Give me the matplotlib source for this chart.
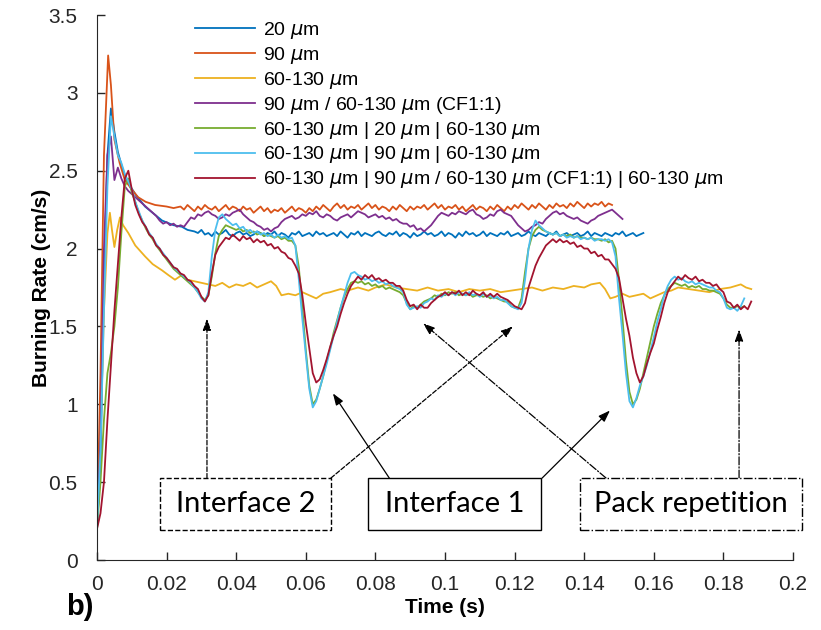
import matplotlib
matplotlib.use("Agg")
import matplotlib.pyplot as plt
from matplotlib.patches import Rectangle
from matplotlib.ticker import FuncFormatter, MultipleLocator

plt.rcParams['font.family'] = ['Liberation Sans', 'DejaVu Sans']
plt.rcParams['mathtext.fontset'] = 'dejavusans'

# ---- data (time in ms, burning rate in cm/s) ----
# 20 um
t_20 = [0, 1, 2, 3, 4, 5, 6, 7.5, 9, 11, 13.8, 16.5, 18.7, 22, 24.4, 26] + list(range(28, 158))
r_20 = [0.22, 0.6, 1.8, 2.6, 2.90, 2.75, 2.62, 2.50, 2.42, 2.35, 2.27, 2.22, 2.18, 2.15, 2.14, 2.12,
        2.11, 2.10, 2.12, 2.09, 2.10, 2.08, 2.11, 2.09, 2.10, 2.12,
        2.09, 2.08, 2.10, 2.11, 2.09, 2.10, 2.08, 2.09, 2.11, 2.10,
        2.08, 2.10, 2.09, 2.11, 2.08, 2.10, 2.09, 2.07, 2.10, 2.09,
        2.11, 2.08, 2.09, 2.10, 2.08, 2.11, 2.09, 2.10, 2.08, 2.09,
        2.10, 2.08, 2.11, 2.09, 2.07, 2.10, 2.09, 2.11, 2.08, 2.10,
        2.09, 2.08, 2.10, 2.11, 2.09, 2.08, 2.10, 2.09, 2.11, 2.08,
        2.10, 2.09, 2.07, 2.10, 2.08, 2.09, 2.11, 2.09, 2.10, 2.08,
        2.09, 2.11, 2.08, 2.10, 2.09, 2.07, 2.10, 2.08, 2.11, 2.09,
        2.10, 2.08, 2.09, 2.11, 2.08, 2.10, 2.09, 2.08, 2.10, 2.09,
        2.11, 2.08, 2.09, 2.10, 2.08, 2.09, 2.11, 2.09, 2.08, 2.10,
        2.09, 2.08, 2.10, 2.09, 2.11, 2.08, 2.09, 2.10, 2.08, 2.09,
        2.10, 2.08, 2.09, 2.11, 2.08, 2.10, 2.09, 2.08, 2.10, 2.09,
        2.08, 2.10, 2.09, 2.11, 2.08, 2.09, 2.10, 2.08, 2.09, 2.10]

# 90 um
t_90 = [0, 1, 2, 3.2, 4, 5, 6.5, 8, 10, 11.8, 14, 16.7, 20, 22] + list(range(24, 149))
r_90 = [0.2, 1.2, 2.6, 3.24, 3.05, 2.70, 2.55, 2.44, 2.38, 2.33, 2.30, 2.28, 2.27, 2.26,
        2.27, 2.25, 2.28, 2.26, 2.24, 2.27, 2.25, 2.28, 2.26, 2.25,
        2.27, 2.24, 2.26, 2.28, 2.25, 2.27, 2.26, 2.24, 2.27, 2.25,
        2.26, 2.23, 2.25, 2.27, 2.24, 2.26, 2.23, 2.25, 2.24, 2.26,
        2.23, 2.25, 2.27, 2.24, 2.26, 2.25, 2.23, 2.26, 2.24, 2.27,
        2.25, 2.28, 2.26, 2.24, 2.27, 2.29, 2.26, 2.28, 2.25, 2.27,
        2.26, 2.28, 2.25, 2.27, 2.29, 2.26, 2.28, 2.25, 2.27, 2.26,
        2.24, 2.27, 2.25, 2.28, 2.26, 2.24, 2.27, 2.25, 2.27, 2.26,
        2.28, 2.25, 2.27, 2.29, 2.26, 2.28, 2.25, 2.27, 2.26, 2.28,
        2.25, 2.27, 2.24, 2.26, 2.28, 2.25, 2.27, 2.26, 2.24, 2.27,
        2.25, 2.28, 2.26, 2.24, 2.27, 2.25, 2.28, 2.26, 2.29, 2.27,
        2.25, 2.28, 2.26, 2.29, 2.27, 2.25, 2.28, 2.26, 2.29, 2.27,
        2.28, 2.26, 2.29, 2.27, 2.30, 2.28, 2.26, 2.29, 2.27, 2.29,
        2.28, 2.30, 2.27, 2.29, 2.28]

# 60-130 um
t_60 = [0, 1, 2, 3, 3.7, 4.3, 5, 5.8, 6.6, 7.5, 9, 11, 13.8, 16, 18.7, 20.5, 22.4, 24.4, 26, 28,
        30, 32, 34, 36, 38, 40, 42, 44, 46, 48, 50, 51.5, 53, 55, 57, 59, 61, 63, 65, 67,
        70, 72, 75, 78, 80, 83, 86, 89, 92, 95, 98, 101, 104, 107, 110, 113, 116, 119, 122, 125,
        128, 131, 134, 137, 140, 142, 144.5, 146, 147.5, 149, 151, 153, 155, 157, 159, 161, 163, 165, 167, 170,
        173, 176, 179, 182, 185, 186.5, 188]
r_60 = [0.2, 0.8, 1.6, 2.1, 2.23, 2.12, 2.01, 2.12, 2.20, 2.15, 2.10, 2.02, 1.95, 1.90, 1.86, 1.83, 1.80, 1.83, 1.80, 1.79,
        1.78, 1.77, 1.76, 1.78, 1.75, 1.77, 1.76, 1.78, 1.75, 1.77, 1.79, 1.76, 1.70, 1.71, 1.70, 1.72, 1.70, 1.68, 1.71, 1.72,
        1.74, 1.73, 1.75, 1.73, 1.75, 1.77, 1.75, 1.74, 1.73, 1.75, 1.73, 1.74, 1.72, 1.74, 1.73, 1.74, 1.72, 1.73, 1.74, 1.75,
        1.73, 1.75, 1.74, 1.76, 1.75, 1.77, 1.78, 1.74, 1.68, 1.69, 1.71, 1.69, 1.70, 1.71, 1.68, 1.70, 1.72, 1.73, 1.75, 1.74,
        1.73, 1.72, 1.74, 1.75, 1.77, 1.75, 1.74]

# 90 um / 60-130 um (CF1:1), 1 ms samples
t_cf = list(range(0, 152))
r_cf = [0.20, 0.80, 2.00, 2.60, 2.72, 2.44, 2.52, 2.45, 2.40, 2.37,
        2.35, 2.33, 2.31, 2.29, 2.27, 2.25, 2.23, 2.21, 2.18, 2.16,
        2.17, 2.15, 2.16, 2.14, 2.15, 2.14, 2.17, 2.20, 2.19, 2.22,
        2.21, 2.23, 2.24, 2.22, 2.21, 2.19, 2.20, 2.22, 2.21, 2.23,
        2.24, 2.25, 2.22, 2.20, 2.18, 2.17, 2.15, 2.14, 2.12, 2.13,
        2.11, 2.13, 2.14, 2.17, 2.19, 2.20, 2.21, 2.19, 2.20, 2.22,
        2.21, 2.23, 2.22, 2.24, 2.21, 2.20, 2.22, 2.21, 2.19, 2.18,
        2.20, 2.21, 2.22, 2.20, 2.22, 2.24, 2.23, 2.22, 2.20, 2.21,
        2.22, 2.20, 2.21, 2.19, 2.20, 2.18, 2.19, 2.17, 2.16, 2.16,
        2.14, 2.15, 2.12, 2.13, 2.11, 2.13, 2.15, 2.18, 2.21, 2.23,
        2.22, 2.21, 2.23, 2.22, 2.24, 2.23, 2.22, 2.24, 2.25, 2.22,
        2.21, 2.19, 2.20, 2.22, 2.21, 2.24, 2.25, 2.23, 2.22, 2.21,
        2.18, 2.15, 2.13, 2.11, 2.12, 2.14, 2.15, 2.17, 2.16, 2.19,
        2.21, 2.23, 2.24, 2.22, 2.23, 2.21, 2.20, 2.19, 2.20, 2.18,
        2.17, 2.16, 2.18, 2.19, 2.21, 2.22, 2.23, 2.24, 2.25, 2.23,
        2.21, 2.19]

# 60-130 um | 20 um | 60-130 um, 1 ms samples
t_a = list(range(0, 187))
r_a = [0.20, 0.50, 0.90, 1.20, 1.33, 1.50, 1.75, 2.10, 2.40, 2.45,
       2.36, 2.30, 2.23, 2.18, 2.13, 2.09, 2.06, 2.02, 1.99, 1.96,
       1.93, 1.90, 1.87, 1.85, 1.83, 1.81, 1.79, 1.77, 1.75, 1.72,
       1.69, 1.67, 1.70, 1.82, 1.97, 2.08, 2.12, 2.15, 2.14, 2.13,
       2.12, 2.13, 2.11, 2.12, 2.10, 2.11, 2.09, 2.10, 2.08, 2.09,
       2.08, 2.07, 2.08, 2.06, 2.07, 2.05, 2.05, 2.02, 1.88, 1.62,
       1.35, 1.12, 1.00, 1.03, 1.10, 1.18, 1.28, 1.36, 1.46, 1.54,
       1.62, 1.69, 1.74, 1.78, 1.79, 1.78, 1.79, 1.77, 1.78, 1.76,
       1.77, 1.75, 1.76, 1.74, 1.75, 1.74, 1.73, 1.72, 1.70, 1.65,
       1.61, 1.63, 1.62, 1.64, 1.66, 1.67, 1.68, 1.70, 1.69, 1.71,
       1.70, 1.72, 1.71, 1.72, 1.70, 1.71, 1.70, 1.71, 1.69, 1.70,
       1.70, 1.69, 1.70, 1.68, 1.69, 1.68, 1.67, 1.66, 1.66, 1.63,
       1.62, 1.62, 1.68, 1.85, 2.00, 2.08, 2.12, 2.14, 2.12, 2.11,
       2.10, 2.09, 2.10, 2.08, 2.09, 2.08, 2.09, 2.07, 2.08, 2.07,
       2.07, 2.06, 2.07, 2.06, 2.06, 2.05, 2.06, 2.04, 2.05, 2.00,
       1.80, 1.55, 1.28, 1.08, 1.00, 1.03, 1.10, 1.20, 1.30, 1.40,
       1.50, 1.58, 1.65, 1.70, 1.74, 1.76, 1.78, 1.77, 1.76, 1.77,
       1.75, 1.76, 1.75, 1.76, 1.74, 1.74, 1.73, 1.73, 1.72, 1.71,
       1.68, 1.64, 1.62, 1.62, 1.63, 1.62, 1.63]

# 60-130 um | 90 um | 60-130 um, 1 ms samples
t_b = list(range(0, 187))
r_b = [0.20, 0.70, 1.60, 2.40, 2.85, 2.72, 2.60, 2.55, 2.48, 2.43,
       2.38, 2.30, 2.24, 2.18, 2.14, 2.10, 2.07, 2.03, 2.00, 1.97,
       1.94, 1.91, 1.88, 1.86, 1.84, 1.82, 1.80, 1.78, 1.75, 1.72,
       1.68, 1.66, 1.72, 1.95, 2.12, 2.20, 2.22, 2.19, 2.17, 2.15,
       2.16, 2.13, 2.14, 2.11, 2.12, 2.10, 2.11, 2.09, 2.10, 2.08,
       2.09, 2.07, 2.09, 2.07, 2.08, 2.06, 2.07, 2.02, 1.80, 1.55,
       1.32, 1.10, 0.98, 1.02, 1.10, 1.18, 1.26, 1.35, 1.44, 1.53,
       1.62, 1.70, 1.78, 1.84, 1.85, 1.83, 1.82, 1.80, 1.81, 1.79,
       1.80, 1.78, 1.79, 1.77, 1.78, 1.76, 1.75, 1.74, 1.72, 1.64,
       1.61, 1.62, 1.63, 1.62, 1.65, 1.66, 1.68, 1.67, 1.70, 1.69,
       1.71, 1.70, 1.72, 1.70, 1.72, 1.71, 1.70, 1.72, 1.70, 1.71,
       1.69, 1.71, 1.69, 1.70, 1.68, 1.69, 1.67, 1.67, 1.65, 1.63,
       1.62, 1.61, 1.65, 1.80, 2.00, 2.12, 2.18, 2.15, 2.13, 2.11,
       2.10, 2.09, 2.10, 2.08, 2.09, 2.07, 2.08, 2.07, 2.08, 2.06,
       2.07, 2.06, 2.07, 2.05, 2.06, 2.06, 2.05, 2.06, 2.04, 1.95,
       1.68, 1.45, 1.20, 1.02, 0.98, 1.04, 1.12, 1.18, 1.25, 1.34,
       1.43, 1.53, 1.61, 1.70, 1.76, 1.80, 1.82, 1.80, 1.81, 1.79,
       1.78, 1.79, 1.77, 1.78, 1.77, 1.76, 1.75, 1.75, 1.73, 1.72,
       1.68, 1.62, 1.61, 1.62, 1.60, 1.63, 1.68]

# 60-130 um | 90 um / 60-130 um (CF1:1) | 60-130 um, 1 ms samples
t_c = list(range(0, 189))
r_c = [0.20, 0.30, 0.50, 0.90, 1.25, 1.60, 1.90, 2.20, 2.45, 2.50,
       2.38, 2.28, 2.22, 2.17, 2.14, 2.09, 2.07, 2.02, 2.00, 1.96,
       1.94, 1.91, 1.88, 1.87, 1.84, 1.83, 1.80, 1.79, 1.76, 1.74,
       1.69, 1.66, 1.70, 1.84, 1.96, 2.01, 2.04, 2.07, 2.06, 2.09,
       2.07, 2.05, 2.08, 2.06, 2.07, 2.04, 2.06, 2.04, 2.05, 2.02,
       2.03, 2.00, 2.01, 1.98, 1.97, 1.94, 1.93, 1.89, 1.84, 1.70,
       1.52, 1.36, 1.20, 1.14, 1.16, 1.22, 1.29, 1.37, 1.44, 1.50,
       1.58, 1.65, 1.71, 1.76, 1.79, 1.82, 1.80, 1.83, 1.81, 1.83,
       1.80, 1.81, 1.79, 1.80, 1.78, 1.78, 1.76, 1.76, 1.73, 1.67,
       1.63, 1.64, 1.61, 1.64, 1.62, 1.62, 1.65, 1.67, 1.69, 1.70,
       1.72, 1.70, 1.72, 1.71, 1.73, 1.70, 1.72, 1.70, 1.73, 1.71,
       1.70, 1.72, 1.69, 1.71, 1.69, 1.71, 1.69, 1.68, 1.67, 1.65,
       1.63, 1.62, 1.61, 1.65, 1.75, 1.82, 1.89, 1.94, 1.98, 2.02,
       2.04, 2.06, 2.04, 2.06, 2.04, 2.05, 2.03, 2.04, 2.01, 2.02,
       2.00, 2.00, 1.97, 1.98, 1.95, 1.96, 1.93, 1.93, 1.90, 1.87,
       1.81, 1.68, 1.55, 1.44, 1.30, 1.20, 1.14, 1.18, 1.26, 1.33,
       1.39, 1.48, 1.56, 1.65, 1.72, 1.76, 1.79, 1.82, 1.80, 1.83,
       1.81, 1.80, 1.82, 1.79, 1.80, 1.78, 1.78, 1.76, 1.77, 1.74,
       1.72, 1.66, 1.65, 1.62, 1.64, 1.61, 1.63, 1.61, 1.66]

series = [
    (t_20, r_20, '#0072BD', r'20 $\mu$m'),
    (t_90, r_90, '#D95319', r'90 $\mu$m'),
    (t_60, r_60, '#EDB120', r'60-130 $\mu$m'),
    (t_cf, r_cf, '#7E2F8E', r'90 $\mu$m / 60-130 $\mu$m (CF1:1)'),
    (t_a, r_a, '#77AC30', r'60-130 $\mu$m | 20 $\mu$m | 60-130 $\mu$m'),
    (t_b, r_b, '#4DBEEE', r'60-130 $\mu$m | 90 $\mu$m | 60-130 $\mu$m'),
    (t_c, r_c, '#A2142F', r'60-130 $\mu$m | 90 $\mu$m / 60-130 $\mu$m (CF1:1) | 60-130 $\mu$m'),
]

fig = plt.figure(figsize=(8.21, 6.3), dpi=100)
ax = fig.add_axes([97 / 821, 70 / 630, 696 / 821, 545 / 630])

for t, r, c, lab in series:
    ax.plot([v / 1000 for v in t], r, color=c, lw=1.3, label=lab)

ax.set_xlim(0, 0.2)
ax.set_ylim(0, 3.5)
ax.xaxis.set_major_locator(MultipleLocator(0.02))
ax.yaxis.set_major_locator(MultipleLocator(0.5))
fmt = FuncFormatter(lambda v, p: '%g' % round(v, 3))
ax.xaxis.set_major_formatter(fmt)
ax.yaxis.set_major_formatter(fmt)
ax.tick_params(direction='in', length=6, width=1, labelsize=15, colors='#262626')
ax.tick_params(axis='x', pad=11)
ax.tick_params(axis='y', pad=14)
for s in ['top', 'right']:
    ax.spines[s].set_visible(False)
for s in ['left', 'bottom']:
    ax.spines[s].set_color('#262626')
ax.set_xlabel('Time (s)', fontsize=15, fontweight='bold', labelpad=3)
ax.set_ylabel('Burning Rate (cm/s)', fontsize=15, fontweight='bold', labelpad=-2)

ax.legend(loc='upper left', bbox_to_anchor=(195 / 821, 1 - 20 / 630), bbox_transform=fig.transFigure,
          frameon=False, fontsize=14, handlelength=3.1, handletextpad=0.4, labelspacing=0.2,
          borderpad=0, borderaxespad=0)

# annotation boxes (data coords)
boxes = [
    ('Interface 2', 0.0181, 0.0672, '--'),
    ('Interface 1', 0.0780, 0.1276, '-'),
    ('Pack repetition', 0.1388, 0.2026, '-.'),
]
for txt, x0, x1, ls in boxes:
    ax.add_patch(Rectangle((x0, 0.19), x1 - x0, 0.336, fc='white', ec='k', lw=1.0, ls=ls,
                           clip_on=False, zorder=5))
    ax.text((x0 + x1) / 2, 0.36, txt, ha='center', va='center', fontsize=21,
            family=['Lato', 'DejaVu Sans'], zorder=6, clip_on=False)

arrows = [
    ((0.0316, 0.526), (0.0316, 1.55), '--'),
    ((0.0672, 0.526), (0.1195, 1.50), '--'),
    ((0.0840, 0.526), (0.0678, 1.07), '-'),
    ((0.1279, 0.526), (0.1474, 0.96), '-'),
    ((0.1463, 0.526), (0.0937, 1.52), '-.'),
    ((0.1845, 0.526), (0.1845, 1.48), '-.'),
]
for start, tip, ls in arrows:
    ax.annotate('', xy=tip, xytext=start,
                arrowprops=dict(arrowstyle='-|>,head_length=0.7,head_width=0.25', color='k',
                                lw=0.9, ls=ls, shrinkA=0, shrinkB=0), zorder=4)

fig.text(66 / 821, 1 - 615 / 630, 'b)', fontsize=21, fontweight='bold', va='baseline')

fig.savefig('out.png', dpi=100)
